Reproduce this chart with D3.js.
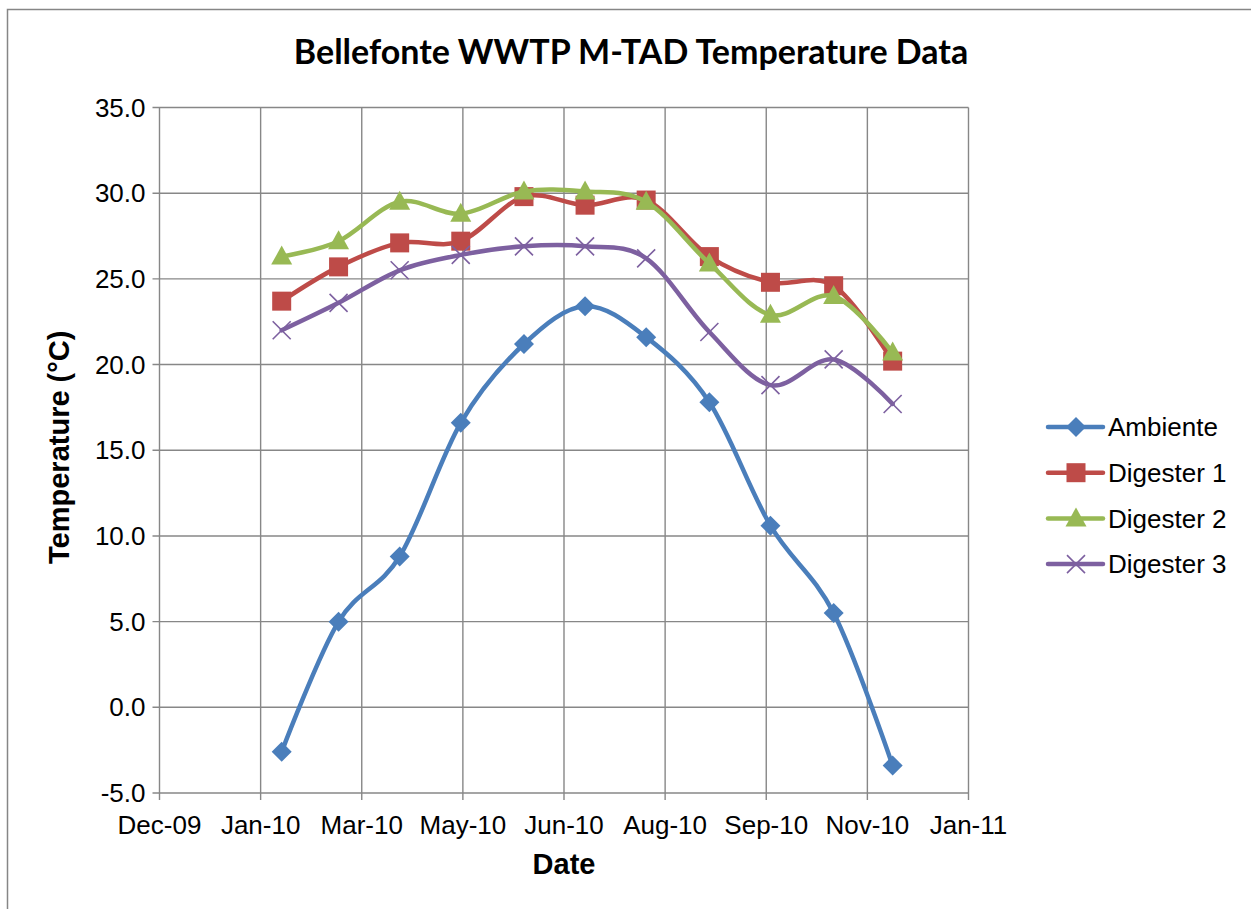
<!DOCTYPE html>
<html>
<head>
<meta charset="utf-8">
<script src="https://cdn.jsdelivr.net/npm/d3@7"></script>
<style>
  body { margin: 0; background: #fff; }
  svg { display: block; font-family: "Liberation Sans", Arial, sans-serif; }
</style>
</head>
<body>
<div id="chart"></div>
<script>
// sample dates
const sampleDates = ['2010-02-10','2010-03-09','2010-04-07','2010-05-06','2010-06-05','2010-07-04',
  '2010-08-02','2010-09-01','2010-09-30','2010-10-30','2010-11-27'];

const ambiente  = [-2.6, 5.0, 8.8, 16.6, 21.2, 23.4, 21.6, 17.8, 10.6, 5.5, -3.4];
const digester1 = [23.7, 25.7, 27.1, 27.2, 29.8, 29.3, 29.6, 26.3, 24.8, 24.6, 20.2];
const digester2 = [26.3, 27.2, 29.5, 28.8, 30.1, 30.1, 29.5, 25.9, 22.9, 24.0, 20.7];
const digester3 = [22.0, 23.6, 25.5, 26.4, 26.9, 26.9, 26.2, 21.9, 18.8, 20.3, 17.7];

const seriesNames = ['Ambiente', 'Digester 1', 'Digester 2', 'Digester 3'];
const seriesColors = ['#4A7EBB', '#BE4B48', '#98B954', '#7D60A0'];
const seriesMarkers = ['diamond', 'square', 'triangle', 'cross'];

const xTickLabels = ['Dec-09','Jan-10','Mar-10','May-10','Jun-10','Aug-10','Sep-10','Nov-10','Jan-11'];
const yTicks = [-5, 0, 5, 10, 15, 20, 25, 30, 35];

const W = 1251, H = 909;
const margin = {left: 159.5, right: 1251 - 968.5, top: 107.5, bottom: 909 - 793};

const parse = d3.utcParse('%Y-%m-%d');
const xStart = parse('2009-12-14');
const xEnd = d3.utcDay.offset(xStart, 48 * 8);
const xTickDates = d3.range(xTickLabels.length).map(i => d3.utcDay.offset(xStart, 48 * i));

const x = d3.scaleUtc().domain([xStart, xEnd]).range([margin.left, W - margin.right]);
const y = d3.scaleLinear().domain([-5, 35]).range([H - margin.bottom, margin.top]);

const svg = d3.select('#chart').append('svg')
  .attr('width', W)
  .attr('height', H);

// outer chart border
svg.append('rect')
  .attr('x', 7.5).attr('y', 9.5)
  .attr('width', 1300).attr('height', 1000)
  .attr('fill', 'none')
  .attr('stroke', '#868686')
  .attr('stroke-width', 1.5);

const gridColor = '#878787';

// gridlines
svg.append('g')
  .selectAll('line')
  .data(yTicks)
  .join('line')
  .attr('x1', margin.left - 7).attr('x2', W - margin.right)
  .attr('y1', d => y(d)).attr('y2', d => y(d))
  .attr('stroke', gridColor).attr('stroke-width', 1.4);

svg.append('g')
  .selectAll('line')
  .data(xTickDates)
  .join('line')
  .attr('x1', d => x(d)).attr('x2', d => x(d))
  .attr('y1', margin.top).attr('y2', H - margin.bottom + 7)
  .attr('stroke', gridColor).attr('stroke-width', 1.4);

// axes labels
svg.append('g')
  .selectAll('text')
  .data(yTicks)
  .join('text')
  .attr('x', margin.left - 14)
  .attr('y', d => y(d))
  .attr('dy', '0.35em')
  .attr('text-anchor', 'end')
  .attr('font-size', 26)
  .text(d => d.toFixed(1));

svg.append('g')
  .selectAll('text')
  .data(xTickDates)
  .join('text')
  .attr('x', d => x(d))
  .attr('y', H - margin.bottom + 41)
  .attr('text-anchor', 'middle')
  .attr('font-size', 26)
  .text((d, i) => xTickLabels[i]);

// titles
svg.append('text')
  .attr('x', 631)
  .attr('y', 64)
  .attr('text-anchor', 'middle')
  .attr('font-family', 'Lato, "Open Sans", sans-serif')
  .attr('font-weight', 'bold')
  .attr('font-size', 34)
  .text('Bellefonte WWTP M-TAD Temperature Data');

svg.append('text')
  .attr('transform', `translate(69,${(margin.top + H - margin.bottom) / 2 - 3}) rotate(-90)`)
  .attr('text-anchor', 'middle')
  .attr('font-weight', 'bold')
  .attr('font-size', 29)
  .text('Temperature (°C)');

svg.append('text')
  .attr('x', (margin.left + W - margin.right) / 2)
  .attr('y', 874)
  .attr('text-anchor', 'middle')
  .attr('font-weight', 'bold')
  .attr('font-size', 29)
  .text('Date');

// series
const seriesValues = [ambiente, digester1, digester2, digester3];
const series = seriesNames.map((name, i) => ({
  name,
  color: seriesColors[i],
  marker: seriesMarkers[i],
  points: sampleDates.map((d, j) => ({date: parse(d), value: seriesValues[i][j]}))
}));

const line = d3.line()
  .x(d => x(d.date))
  .y(d => y(d.value))
  .curve(d3.curveCardinal.tension(0));

function drawMarker(g, type, color) {
  if (type === 'diamond') {
    g.append('path').attr('d', 'M0,-10L10,0L0,10L-10,0Z').attr('fill', color);
  } else if (type === 'square') {
    g.append('rect').attr('x', -9.5).attr('y', -9.5).attr('width', 19).attr('height', 19).attr('fill', color);
  } else if (type === 'triangle') {
    g.append('path').attr('d', 'M0,-11L10.5,8L-10.5,8Z').attr('fill', color);
  } else {
    g.append('path').attr('d', 'M-9,-9L9,9M-9,9L9,-9').attr('stroke', color).attr('stroke-width', 1.6);
  }
}

const sG = svg.append('g')
  .selectAll('g')
  .data(series)
  .join('g');

sG.append('path')
  .attr('d', d => line(d.points))
  .attr('fill', 'none')
  .attr('stroke', d => d.color)
  .attr('stroke-width', 4.5)
  .attr('stroke-linejoin', 'round')
  .attr('stroke-linecap', 'round');

sG.each(function(s) {
  d3.select(this).selectAll('g.m')
    .data(s.points)
    .join('g')
    .attr('class', 'm')
    .attr('transform', d => `translate(${x(d.date)},${y(d.value)})`)
    .each(function() { drawMarker(d3.select(this), s.marker, s.color); });
});

// legend
const legend = svg.append('g')
  .selectAll('g')
  .data(series)
  .join('g')
  .attr('transform', (d, i) => `translate(1048,${427 + i * 45.7})`);

legend.append('line')
  .attr('x1', 0).attr('x2', 55)
  .attr('stroke', d => d.color)
  .attr('stroke-width', 4.5)
  .attr('stroke-linecap', 'round');

legend.append('g')
  .attr('transform', 'translate(28,0)')
  .each(function(d) { drawMarker(d3.select(this), d.marker, d.color); });

legend.append('text')
  .attr('x', 60)
  .attr('dy', '0.35em')
  .attr('font-size', 26)
  .text(d => d.name);
</script>
</body>
</html>
